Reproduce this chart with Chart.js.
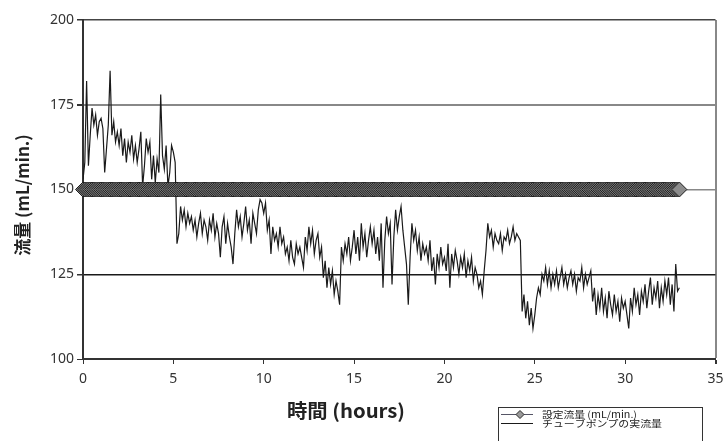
<!DOCTYPE html>
<html>
<head>
<meta charset="utf-8">
<script src="https://cdn.jsdelivr.net/npm/chart.js@4/dist/chart.umd.min.js"></script>
<style>
  html, body { margin: 0; padding: 0; background: #fff; }
  #wrap { width: 724px; height: 441px; }
</style>
</head>
<body>
<div id="wrap"><canvas id="flow" width="724" height="441"></canvas></div>
<script>
// Logged every 0.1 h, starting at 0 h
const SAMPLE_STEP_H = 0.1;

// Set flow (mL/min.)
const setFlowMlMin = 150;

// Measured flow of the tube pump (mL/min.), one value per sample
const pumpFlowMlMin = [
  153, 158, 182, 157, 166, 174, 169, 172, 166, 170,
  171, 168, 155, 162, 169, 185, 166, 170, 164, 167,
  163, 168, 160, 165, 158, 164, 161, 166, 159, 163,
  158, 162, 167, 151, 157, 165, 161, 164, 153, 160,
  152, 159, 155, 178, 160, 156, 163, 151, 155, 163,
  161, 158, 134, 137, 145, 141, 144, 139, 143, 140,
  142, 138, 141, 136, 140, 143, 137, 141, 139, 135,
  141, 138, 143, 136, 140, 137, 130, 139, 142, 134,
  140, 136, 133, 128, 137, 144, 139, 142, 136, 140,
  145, 138, 141, 134, 143, 140, 137, 144, 147, 146,
  143, 146, 138, 141, 131, 139, 135, 137, 133, 139,
  134, 136, 131, 133, 129, 135, 130, 128, 134, 131,
  133, 130, 127, 136, 132, 139, 134, 138, 131, 135,
  137, 130, 133, 124, 129, 121, 127, 122, 126, 119,
  123, 120, 116, 133, 129, 134, 131, 136, 129, 133,
  138, 131, 136, 129, 140, 133, 137, 130, 135, 139,
  134, 138, 131, 136, 129, 140, 121, 135, 142, 137,
  140, 122, 136, 144, 138, 142, 145, 138, 133, 128,
  116, 130, 140, 135, 138, 132, 136, 129, 134, 131,
  133, 129, 135, 126, 130, 122, 131, 127, 133, 128,
  130, 126, 134, 121, 131, 127, 132, 129, 125, 130,
  127, 131, 124, 129, 126, 130, 123, 127, 125, 121,
  123, 119, 126, 132, 140, 136, 138, 133, 137, 135,
  134, 137, 132, 136, 135, 138, 134, 136, 139, 135,
  137, 136, 135, 114, 119, 112, 117, 110, 115, 109,
  113, 118, 121, 119, 125, 123, 127, 122, 126, 121,
  125, 122, 126, 121, 124, 127, 122, 125, 121, 124,
  126, 122, 125, 120, 124, 123, 127, 121, 125, 122,
  124, 126, 117, 121, 113, 119, 115, 121, 114, 118,
  112, 120, 116, 113, 119, 114, 117, 111, 118, 115,
  117, 113, 109, 118, 114, 121, 116, 119, 113, 120,
  117, 122, 115, 120, 124, 116, 121, 118, 123, 115,
  121, 117, 123, 119, 124, 116, 122, 114, 128, 120,
  121
];

// Axis ticks
const xTickValues = [0, 5, 10, 15, 20, 25, 30, 35];
const yTickValues = [100, 125, 150, 175, 200];

// Labels
const seriesNames = ['設定流量 (mL/min.)', 'チューブポンプの実流量'];
const xTitle = '時間 (hours)';
const yTitle = '流量 (mL/min.)';

const sampleHours = pumpFlowMlMin.map((_, i) => Math.round(i * SAMPLE_STEP_H * 100) / 100);
const pumpPoints = pumpFlowMlMin.map((v, i) => ({ x: sampleHours[i], y: v }));
const setPoints = sampleHours.map(h => ({ x: h, y: setFlowMlMin }));

const TICK_FONT = { family: '"Noto Sans", "DejaVu Sans", sans-serif', size: 14 };
const Y_TITLE_FONT = 'bold 17px "Noto Sans CJK JP", "Noto Sans", sans-serif';
const X_TITLE_FONT = 'bold 19px "Noto Sans CJK JP", "Noto Sans", sans-serif';
const LEGEND_FONT = '9.5px "Noto Sans CJK JP", "Noto Sans", sans-serif';

const gridColorY = {100: 'rgba(0,0,0,0)', 125: '#1a1a1a', 150: '#888888', 175: '#888888', 200: '#444444'};
const gridWidthY = {100: 1, 125: 1.5, 150: 1.5, 175: 2, 200: 1.5};

// Text drawn with a horizontal stretch so it spans the given width
function wideText(ctx, text, x, y, width, align) {
  const w = ctx.measureText(text).width;
  const k = width / w;
  ctx.save();
  ctx.translate(x, y);
  ctx.scale(k, 1);
  ctx.textAlign = align;
  ctx.fillText(text, 0, 0);
  ctx.restore();
}

// Axis titles and boxed legend
const decorations = {
  id: 'decorations',
  afterDraw(chart) {
    const ctx = chart.ctx;
    ctx.save();
    ctx.fillStyle = '#222';
    ctx.textBaseline = 'middle';
    ctx.font = X_TITLE_FONT;
    wideText(ctx, xTitle, 346, 411, 118, 'center');
    ctx.font = Y_TITLE_FONT;
    ctx.translate(23, 195);
    ctx.rotate(-Math.PI / 2);
    ctx.textAlign = 'center';
    ctx.fillText(yTitle, 0, 0);
    ctx.restore();

    ctx.save();
    ctx.strokeStyle = '#333';
    ctx.lineWidth = 1;
    ctx.strokeRect(498.5, 407.5, 204, 40);
    // row 1: set flow
    ctx.strokeStyle = '#555566';
    ctx.beginPath(); ctx.moveTo(501, 414.5); ctx.lineTo(533, 414.5); ctx.stroke();
    ctx.beginPath();
    ctx.moveTo(520, 410.5); ctx.lineTo(524, 414.5); ctx.lineTo(520, 418.5); ctx.lineTo(516, 414.5); ctx.closePath();
    ctx.fillStyle = '#9a9a9a'; ctx.fill();
    ctx.strokeStyle = '#2a2a2a'; ctx.stroke();
    // row 2: measured flow
    ctx.strokeStyle = '#1a1a1a';
    ctx.beginPath(); ctx.moveTo(501, 423.5); ctx.lineTo(533, 423.5); ctx.stroke();
    ctx.fillStyle = '#222';
    ctx.font = LEGEND_FONT;
    ctx.textBaseline = 'middle';
    wideText(ctx, seriesNames[0], 542, 414, 95, 'left');
    wideText(ctx, seriesNames[1], 542, 423.5, 120, 'left');
    ctx.restore();
  }
};

new Chart(document.getElementById('flow'), {
  type: 'line',
  data: {
    datasets: [
      {
        label: seriesNames[0],
        data: setPoints,
        borderColor: '#666677',
        borderWidth: 1,
        pointStyle: 'rectRot',
        pointRadius: 7.5,
        pointBackgroundColor: '#8c8c8c',
        pointBorderColor: '#1c1c1c',
        pointBorderWidth: 1,
        clip: false
      },
      {
        label: seriesNames[1],
        data: pumpPoints,
        borderColor: '#1a1a1a',
        borderWidth: 1.2,
        pointRadius: 0,
        tension: 0
      }
    ]
  },
  options: {
    responsive: false,
    animation: false,
    events: [],
    layout: { padding: { top: 20, right: 7, bottom: 0, left: 0 } },
    plugins: { legend: { display: false }, tooltip: { enabled: false } },
    scales: {
      x: {
        type: 'linear',
        min: 0, max: 35,
        afterBuildTicks: s => { s.ticks = xTickValues.map(v => ({ value: v })); },
        afterFit: s => { s.height = 82; s.paddingLeft = 0; s.paddingRight = 0; },
        ticks: { font: TICK_FONT, color: '#333', padding: 7, maxRotation: 0 },
        grid: {
          color: c => (c.tick && c.tick.value === 35 ? '#888888' : 'rgba(0,0,0,0)'),
          lineWidth: c => (c.tick && c.tick.value === 35 ? 2 : 1),
          tickColor: '#333',
          tickLength: 5,
          drawTicks: true
        },
        border: { color: '#333', width: 2 }
      },
      y: {
        min: 100, max: 200,
        afterBuildTicks: s => { s.ticks = yTickValues.map(v => ({ value: v })); },
        afterFit: s => { s.width = 83; s.paddingTop = 0; s.paddingBottom = 0; },
        ticks: { font: TICK_FONT, color: '#333', padding: 3 },
        grid: {
          color: c => gridColorY[c.tick ? c.tick.value : 100] || 'rgba(0,0,0,0)',
          lineWidth: c => gridWidthY[c.tick ? c.tick.value : 100] || 1,
          tickColor: '#333',
          tickLength: 6,
          drawTicks: true
        },
        border: { color: '#333', width: 2 }
      }
    }
  },
  plugins: [decorations]
});
</script>
</body>
</html>
